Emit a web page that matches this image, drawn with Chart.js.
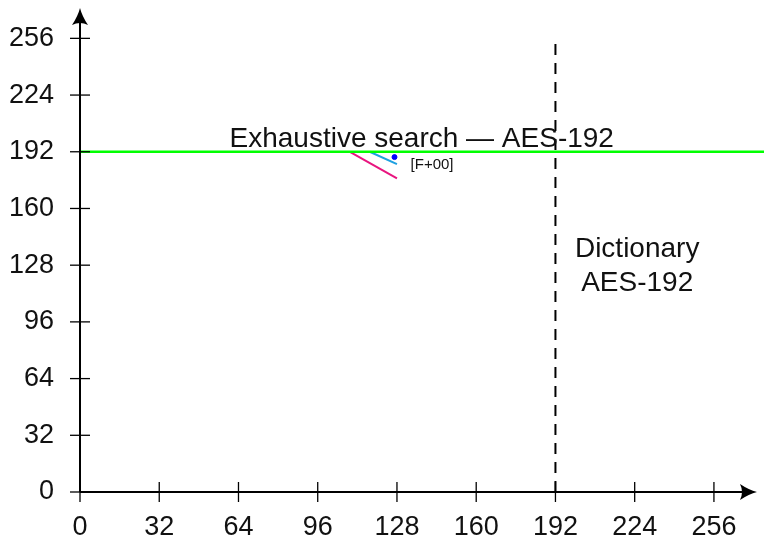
<!DOCTYPE html>
<html>
<head>
<meta charset="utf-8">
<script src="https://cdn.jsdelivr.net/npm/chart.js@4.4.1/dist/chart.umd.min.js"></script>
<style>
  html, body { margin: 0; padding: 0; background: #fff; }
  #plot { display: block; }
</style>
</head>
<body>
<canvas id="plot" width="764" height="539"></canvas>
<script>
// ---- data ----
const xTickValues = [0, 32, 64, 96, 128, 160, 192, 224, 256];
const yTickValues = [0, 32, 64, 96, 128, 160, 192, 224, 256];

const exhaustiveX = [0, 277];
const exhaustiveY = [192, 192];

const dictionaryX = [192, 192];
const dictionaryY = [0, 257];

const pinkX = [109, 128];
const pinkY = [192, 177];

const blueX = [117, 128];
const blueY = [192, 185];

const pointX = [127];
const pointY = [189];

const toPoints = (xs, ys) => xs.map((x, i) => ({ x: x, y: ys[i] }));

const FONT = "'Liberation Sans', Arial, sans-serif";

// ---- axes with arrows, ticks crossing the axis, and text labels ----
const axesPlugin = {
    id: 'axesPlugin',
    afterDatasetsDraw(chart) {
        const ctx = chart.ctx;
        const xs = chart.scales.x, ys = chart.scales.y;
        const x0 = xs.getPixelForValue(0), y0 = ys.getPixelForValue(0);
        const xEnd = 757, yEnd = 8;

        ctx.save();
        ctx.strokeStyle = '#000';
        ctx.lineWidth = 1.3;
        // tick marks
        xTickValues.forEach(v => {
            const p = xs.getPixelForValue(v);
            ctx.beginPath(); ctx.moveTo(p, y0 - 10); ctx.lineTo(p, y0 + 10); ctx.stroke();
        });
        yTickValues.forEach(v => {
            const p = ys.getPixelForValue(v);
            ctx.beginPath(); ctx.moveTo(x0 - 10, p); ctx.lineTo(x0 + 10, p); ctx.stroke();
        });

        // axis lines
        ctx.lineWidth = 2;
        ctx.beginPath(); ctx.moveTo(x0, y0); ctx.lineTo(xEnd - 6, y0); ctx.stroke();
        ctx.beginPath(); ctx.moveTo(x0, y0); ctx.lineTo(x0, yEnd + 6); ctx.stroke();

        // arrow heads (latex style)
        ctx.fillStyle = '#000';
        ctx.beginPath();
        ctx.moveTo(xEnd, y0);
        ctx.quadraticCurveTo(xEnd - 8, y0 - 2, xEnd - 17, y0 - 8);
        ctx.quadraticCurveTo(xEnd - 13, y0, xEnd - 17, y0 + 8);
        ctx.quadraticCurveTo(xEnd - 8, y0 + 2, xEnd, y0);
        ctx.fill();
        ctx.beginPath();
        ctx.moveTo(x0, yEnd);
        ctx.quadraticCurveTo(x0 - 2, yEnd + 8, x0 - 8, yEnd + 17);
        ctx.quadraticCurveTo(x0, yEnd + 13, x0 + 8, yEnd + 17);
        ctx.quadraticCurveTo(x0 + 2, yEnd + 8, x0, yEnd);
        ctx.fill();

        // text labels
        ctx.fillStyle = '#111';
        ctx.textAlign = 'center';
        ctx.textBaseline = 'alphabetic';
        ctx.font = '28px ' + FONT;
        ctx.fillText('Exhaustive search \u2014 AES-192', xs.getPixelForValue(138), ys.getPixelForValue(192) - 5);
        ctx.fillText('Dictionary', xs.getPixelForValue(225), ys.getPixelForValue(132.5));
        ctx.fillText('AES-192', xs.getPixelForValue(225), ys.getPixelForValue(113.3));

        ctx.font = '15px ' + FONT;
        ctx.textAlign = 'left';
        ctx.textBaseline = 'middle';
        ctx.fillText('[F+00]', xs.getPixelForValue(133.5), ys.getPixelForValue(184.5));
        ctx.restore();
    }
};

const noPad = s => { s.paddingTop = 0; s.paddingBottom = 0; s.paddingLeft = 0; s.paddingRight = 0; };

new Chart(document.getElementById('plot'), {
    type: 'scatter',
    data: {
        datasets: [
            {
                label: 'Exhaustive search',
                data: toPoints(exhaustiveX, exhaustiveY),
                showLine: true, borderColor: '#00ff00', borderWidth: 2.5,
                pointRadius: 0, clip: false
            },
            {
                label: 'Dictionary',
                data: toPoints(dictionaryX, dictionaryY),
                showLine: true, borderColor: '#000', borderWidth: 2, borderDash: [11, 8],
                pointRadius: 0, clip: false
            },
            {
                label: 'pink',
                data: toPoints(pinkX, pinkY),
                showLine: true, borderColor: '#e8157f', borderWidth: 2,
                pointRadius: 0, clip: false
            },
            {
                label: 'blue',
                data: toPoints(blueX, blueY),
                showLine: true, borderColor: '#1ea0e0', borderWidth: 2,
                pointRadius: 0, clip: false
            },
            {
                label: '[F+00]',
                data: toPoints(pointX, pointY),
                showLine: false, backgroundColor: '#0000ff', borderColor: '#0000ff',
                pointRadius: 2.5, clip: false
            }
        ]
    },
    options: {
        responsive: false,
        animation: false,
        devicePixelRatio: 1,
        layout: { padding: { top: 10, right: 0, bottom: 0, left: 0 } },
        plugins: { legend: { display: false }, tooltip: { enabled: false } },
        scales: {
            x: {
                type: 'linear', min: 0, max: 274.2,
                grid: { display: false, drawTicks: false },
                border: { display: false },
                ticks: { color: '#111', padding: 19, font: { family: FONT, size: 27 }, maxRotation: 0 },
                afterBuildTicks: s => { s.ticks = xTickValues.map(v => ({ value: v })); },
                afterFit: s => { s.height = 47; noPad(s); }
            },
            y: {
                type: 'linear', min: 0, max: 272,
                grid: { display: false, drawTicks: false },
                border: { display: false },
                ticks: { color: '#111', padding: 26, font: { family: FONT, size: 27 } },
                afterBuildTicks: s => { s.ticks = yTickValues.map(v => ({ value: v })); },
                afterFit: s => { s.width = 80; noPad(s); }
            }
        }
    },
    plugins: [axesPlugin]
});
</script>
</body>
</html>
